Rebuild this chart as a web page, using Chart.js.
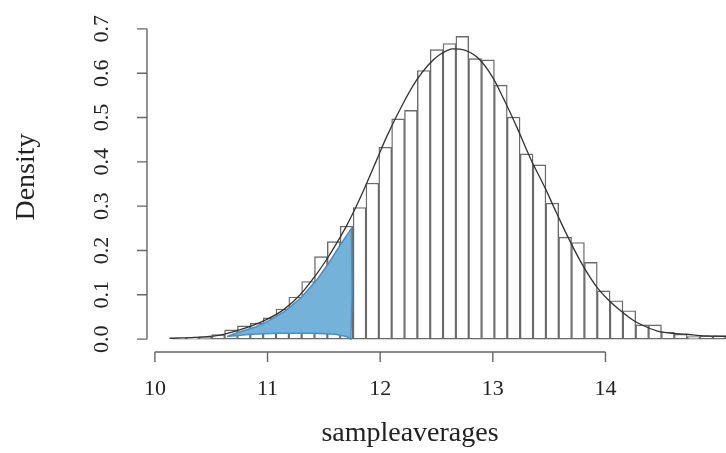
<!DOCTYPE html>
<html>
<head>
<meta charset="utf-8">
<script src="https://cdn.jsdelivr.net/npm/chart.js@4.4.1/dist/chart.umd.min.js"></script>
<style>
  body { margin: 0; background: #fff; }
  #wrap { width: 726px; height: 453px; }
</style>
</head>
<body>
<div id="wrap"><canvas id="myChart"></canvas></div>
<script>
// histogram bins (left edges) and their densities
var binLefts = [10.162, 10.277, 10.391, 10.505, 10.619, 10.733, 10.847, 10.961, 11.075, 11.189,
    11.303, 11.417, 11.531, 11.645, 11.760, 11.874, 11.988, 12.102, 12.216, 12.330,
    12.444, 12.558, 12.672, 12.786, 12.900, 13.014, 13.128, 13.243, 13.357, 13.471,
    13.585, 13.699, 13.813, 13.927, 14.041, 14.155, 14.269, 14.383, 14.497, 14.611,
    14.725, 14.839, 14.954];
var binHeights = [0.002, 0.003, 0.005, 0.010, 0.021, 0.030, 0.036, 0.048, 0.068, 0.095,
    0.13, 0.186, 0.22, 0.255, 0.297, 0.352, 0.433, 0.497, 0.516, 0.606,
    0.653, 0.667, 0.683, 0.633, 0.630, 0.573, 0.501, 0.418, 0.393, 0.307,
    0.230, 0.218, 0.173, 0.109, 0.0865, 0.064, 0.032, 0.032, 0.016, 0.011,
    0.006, 0.007, 0.008];
var binWidth = 0.114;

// density curve
var densX = [10.13, 10.35, 10.55, 10.70, 10.84, 10.99, 11.14, 11.29, 11.43, 11.52,
    11.61, 11.70, 11.76, 11.86, 11.97, 12.06, 12.20, 12.32, 12.425, 12.53,
    12.647, 12.75, 12.878, 13.00, 13.10, 13.21, 13.33, 13.475, 13.565, 13.677,
    13.795, 13.91, 14.02, 14.135, 14.25, 14.36, 14.48, 14.60, 14.72, 14.84,
    14.95, 15.07];
var densY = [0.002, 0.004, 0.008, 0.017, 0.028, 0.044, 0.066, 0.10, 0.145, 0.178,
    0.215, 0.255, 0.285, 0.34, 0.405, 0.458, 0.53, 0.583, 0.618, 0.642,
    0.655, 0.652, 0.632, 0.59, 0.54, 0.48, 0.41, 0.335, 0.285, 0.225,
    0.168, 0.122, 0.09, 0.064, 0.042, 0.028, 0.017, 0.013, 0.011, 0.008,
    0.007, 0.006];

// shaded region outline (top edge then back along the bottom)
var blueX = [10.64, 10.75, 10.90, 11.00, 11.15, 11.30, 11.45, 11.55, 11.65, 11.745,
    11.75, 11.74, 11.70, 11.60, 11.40, 11.10, 10.85, 10.64];
var blueY = [0.006, 0.016, 0.028, 0.040, 0.062, 0.094, 0.138, 0.174, 0.214, 0.25,
    0.10, 0.0, 0.006, 0.011, 0.013, 0.013, 0.011, 0.006];

var xTicks = [10, 11, 12, 13, 14];
var yTicks = [0.0, 0.1, 0.2, 0.3, 0.4, 0.5, 0.6, 0.7];

var histData = binLefts.map(function (l, i) { return { x: l + binWidth / 2, y: binHeights[i] }; });
var densData = densX.map(function (x, i) { return { x: x, y: densY[i] }; });
var blueData = blueX.map(function (x, i) { return { x: x, y: blueY[i] }; });

var serif = "'Liberation Serif', 'DejaVu Serif', serif";

// R style axes: lines only over the tick range, offset from the plot
var rAxes = {
    id: "rAxes",
    afterDraw: function (chart) {
        var ctx = chart.ctx;
        var xs = chart.scales.x, ys = chart.scales.y;
        var area = chart.chartArea;
        ctx.save();
        ctx.strokeStyle = "#666";
        ctx.lineWidth = 1.4;
        ctx.fillStyle = "#222";

        // x axis
        var ay = area.bottom + 4;
        ctx.beginPath();
        ctx.moveTo(xs.getPixelForValue(xTicks[0]), ay);
        ctx.lineTo(xs.getPixelForValue(xTicks[xTicks.length - 1]), ay);
        xTicks.forEach(function (t) {
            var px = xs.getPixelForValue(t);
            ctx.moveTo(px, ay);
            ctx.lineTo(px, ay + 10);
        });
        ctx.stroke();
        ctx.font = "22px " + serif;
        ctx.textAlign = "center";
        ctx.textBaseline = "alphabetic";
        xTicks.forEach(function (t) {
            ctx.fillText(String(t), xs.getPixelForValue(t), 395);
        });

        // y axis
        var ax = area.left;
        ctx.beginPath();
        ctx.moveTo(ax, ys.getPixelForValue(yTicks[0]));
        ctx.lineTo(ax, ys.getPixelForValue(yTicks[yTicks.length - 1]));
        yTicks.forEach(function (t) {
            var py = ys.getPixelForValue(t);
            ctx.moveTo(ax, py);
            ctx.lineTo(ax - 10, py);
        });
        ctx.stroke();
        yTicks.forEach(function (t) {
            ctx.save();
            ctx.translate(108, ys.getPixelForValue(t));
            ctx.rotate(-Math.PI / 2);
            ctx.fillText(t.toFixed(1), 0, 0);
            ctx.restore();
        });

        // axis titles
        ctx.font = "28px " + serif;
        ctx.fillText("sampleaverages", 410, 441);
        ctx.save();
        ctx.translate(34, 177);
        ctx.rotate(-Math.PI / 2);
        ctx.fillText("Density", 0, 0);
        ctx.restore();
        ctx.restore();
    }
};

new Chart("myChart", {
    type: "bar",
    data: {
        datasets: [{
            type: "line",
            label: "density",
            data: densData,
            borderColor: "#333",
            borderWidth: 1.3,
            pointRadius: 0,
            cubicInterpolationMode: "monotone",
            fill: false,
            order: 1
        }, {
            type: "line",
            label: "shaded",
            data: blueData,
            borderColor: "#4a8fc4",
            borderWidth: 1.5,
            backgroundColor: "#75b2d9",
            pointRadius: 0,
            tension: 0,
            fill: "shape",
            order: 2
        }, {
            label: "hist",
            data: histData,
            backgroundColor: "#fff",
            borderColor: "#6a6a6a",
            borderWidth: 1.4,
            borderSkipped: false,
            barPercentage: 1,
            categoryPercentage: 1,
            order: 3
        }]
    },
    options: {
        responsive: true,
        maintainAspectRatio: false,
        animation: false,
        layout: { padding: { left: 147, right: 0, top: 20, bottom: 105 } },
        plugins: {
            legend: { display: false },
            tooltip: { enabled: false }
        },
        scales: {
            x: { type: "linear", offset: false, min: 9.93, max: 15.07, display: false },
            y: { type: "linear", min: -0.02, max: 0.72, display: false }
        }
    },
    plugins: [rAxes]
});
</script>
</body>
</html>
